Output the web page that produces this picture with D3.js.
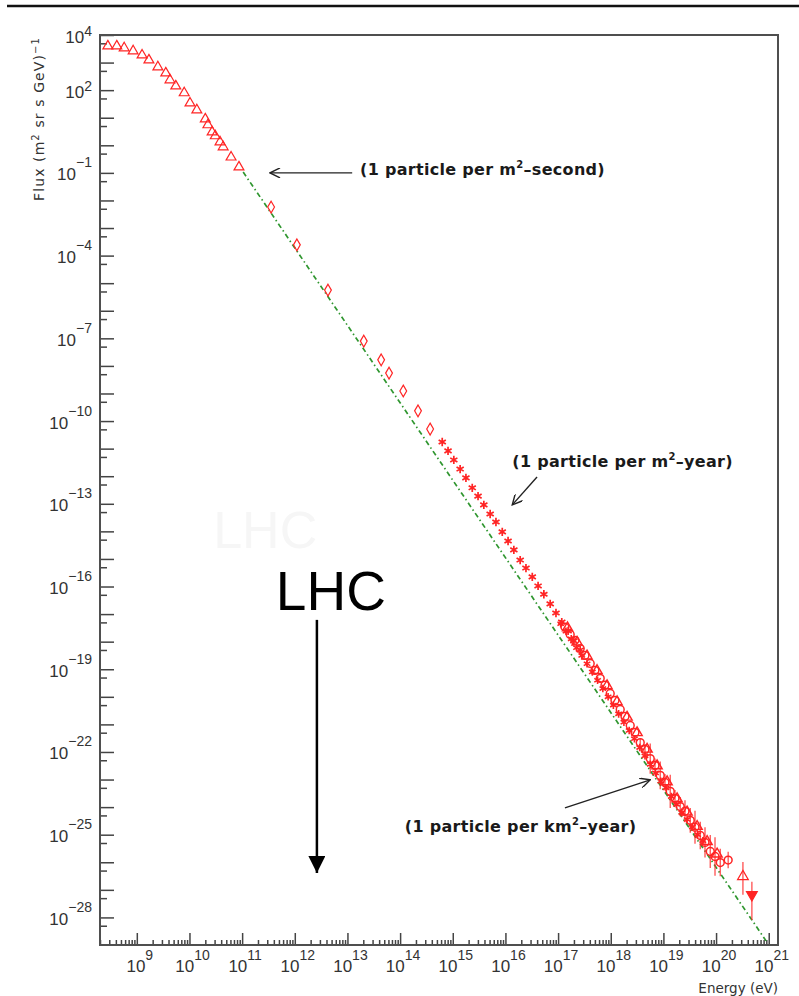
<!DOCTYPE html>
<html>
<head>
<meta charset="utf-8">
<script src="https://cdn.jsdelivr.net/npm/d3@7"></script>
<style>
  html, body { margin: 0; padding: 0; background: #fff; }
  svg { display: block; }
  .tick-label { font-family: "Liberation Sans", Arial, sans-serif; fill: #333; }
  .axis-title { font-family: "DejaVu Sans", sans-serif; fill: #333; }
  .note { font-family: "DejaVu Sans", sans-serif; font-weight: bold; fill: #1a1a1a; letter-spacing: 0.3px; }
  .lhc { font-family: "Liberation Sans", Arial, sans-serif; }
</style>
</head>
<body>
<svg id="chart" width="799" height="996"></svg>
<script>
// --- DATA (log10 values: energy in eV, flux in (m^2 sr s GeV)^-1) ---

// low energy points, open triangles
const lowLogE = [8.45, 8.62, 8.76, 8.93, 9.10, 9.23, 9.40, 9.55, 9.63, 9.74, 9.90, 10.01, 10.14, 10.30, 10.35, 10.43, 10.49, 10.58, 10.64, 10.79, 10.94];
const lowLogF = [3.60, 3.60, 3.53, 3.42, 3.27, 3.09, 2.84, 2.62, 2.37, 2.15, 1.90, 1.53, 1.28, 0.95, 0.74, 0.48, 0.34, 0.12, -0.06, -0.43, -0.79];

// direct measurements, open diamonds
const midLogE = [11.55, 12.04, 12.63, 13.31, 13.64, 13.79, 14.06, 14.34, 14.57];
const midLogF = [-2.24, -3.61, -5.25, -7.10, -7.78, -8.26, -8.91, -9.63, -10.29];

// knee region, asterisks
const kneeLogE = [14.80, 14.91, 15.02, 15.14, 15.25, 15.37, 15.48, 15.59, 15.71, 15.82, 15.94, 16.05, 16.16, 16.28, 16.39, 16.51, 16.62, 16.73, 16.85, 16.96, 17.07, 17.19, 17.30, 17.42];
const kneeLogF = [-10.76, -11.08, -11.41, -11.74, -12.06, -12.42, -12.72, -13.04, -13.37, -13.66, -14.02, -14.35, -14.67, -15.04, -15.33, -15.65, -15.98, -16.28, -16.63, -16.96, -17.29, -17.61, -17.97, -18.30];

// air shower arrays, open circles with error bars
const highLogE = [17.13, 17.23, 17.32, 17.42, 17.51, 17.61, 17.70, 17.80, 17.89, 17.99, 18.08, 18.18, 18.27, 18.37, 18.46, 18.56, 18.65, 18.75, 18.84, 18.94, 19.03, 19.13, 19.22, 19.32, 19.41, 19.51, 19.60, 19.70, 19.79, 19.89, 19.98, 20.08, 20.23];
const highLogF = [-17.47, -17.74, -17.95, -18.25, -18.50, -18.79, -19.04, -19.33, -19.58, -19.88, -20.13, -20.46, -20.71, -21.04, -21.29, -21.66, -21.91, -22.24, -22.49, -22.85, -23.10, -23.43, -23.68, -23.98, -24.15, -24.48, -24.73, -25.03, -25.28, -25.61, -25.79, -26.01, -25.92];
const highErr  = [0, 0, 0, 0, 0, 0, 0, 0, 0, 0, 0, 0, 0, 0, 0, 0.15, 0.2, 0.55, 0.25, 0.5, 0.3, 0.6, 0.3, 0.35, 0.4, 0.45, 0.6, 0.5, 0.55, 0.6, 0.7, 0.5, 0.3];

// second experiment, open triangles
const high2LogE = [17.18, 17.36, 17.55, 17.74, 17.93, 18.12, 18.31, 18.50, 18.69, 18.88, 19.07, 19.26, 19.45, 19.64, 19.83, 20.02];
const high2LogF = [-17.50, -18.02, -18.52, -19.05, -19.60, -20.18, -20.74, -21.30, -21.90, -22.50, -23.08, -23.70, -24.18, -24.70, -25.25, -25.70];

// third experiment, stars
const high3LogE = [17.05, 17.15, 17.25, 17.35, 17.45, 17.55, 17.65, 17.75, 17.85, 17.95, 18.05, 18.15, 18.25, 18.35, 18.45, 18.55, 18.65, 18.75, 18.85, 18.95, 19.05, 19.15, 19.25, 19.35, 19.45, 19.55, 19.65, 19.75];
const high3LogF = [-17.35, -17.62, -17.90, -18.22, -18.50, -18.80, -19.10, -19.40, -19.70, -20.00, -20.30, -20.62, -20.92, -21.22, -21.52, -21.84, -22.14, -22.45, -22.76, -23.06, -23.30, -23.62, -23.90, -24.20, -24.45, -24.72, -25.00, -25.22];

// highest energy points
const topLogE = [20.51];
const topLogF = [-26.52];
const topLo = [-27.18];
const topHi = [-25.99];
const lastLogE = [20.68];
const lastLogF = [-27.18];
const lastLo = [-28.09];
const lastHi = [-26.71];

// power-law guide line (green dash-dot)
const fitLogE = [11.02, 20.95];
const fitLogF = [-0.97, -28.85];

// tick labels
const xTickExp = [9, 10, 11, 12, 13, 14, 15, 16, 17, 18, 19, 20, 21];
const yTickExp = [4, 2, -1, -4, -7, -10, -13, -16, -19, -22, -25, -28];

// annotations
const noteText = [
    ["(1 particle per m", "2", "\u2013second)"],
    ["(1 particle per m", "2", "\u2013year)"],
    ["(1 particle per km", "2", "\u2013year)"]
];
const noteLogE = [13.24, 16.13, 14.09];
const noteLogF = [-1.08, -11.66, -24.90];
const noteSpacing = [0.9, 0.3, 0.3];
const arrowFrom = [[13.09, -1.00], [16.60, -12.03], [17.13, -24.03]];
const arrowTo   = [[11.53, -1.00], [16.13, -13.04], [18.75, -23.01]];

const lhcLabel = "LHC";
const lhcTextLogE = 11.64, lhcTextLogF = -16.85;
const lhcGhostLogE = 10.45, lhcGhostLogF = -14.62;
const lhcArrowLogE = 12.42;
const lhcArrowLogF = [-17.21, -26.39];

// --- LAYOUT ---
const frame = { left: 100, top: 35, right: 778, bottom: 945 };
const red = "#ff2424";

const svg = d3.select("#chart");

const x = d3.scaleLog().domain([2e8, 1.5e21]).range([frame.left, frame.right]);
const y = d3.scaleLog().domain([1e-29, 1e4]).range([frame.bottom, frame.top]);
const px = v => x(Math.pow(10, v));
const py = v => y(Math.pow(10, v));

// rule at the top of the slide
svg.append("line")
    .attr("x1", 7).attr("x2", 799).attr("y1", 6).attr("y2", 6)
    .attr("stroke", "#111").attr("stroke-width", 2.5);

const defs = svg.append("defs");
defs.append("clipPath").attr("id", "plot-clip")
  .append("rect")
    .attr("x", frame.left).attr("y", frame.top)
    .attr("width", frame.right - frame.left).attr("height", frame.bottom - frame.top);

defs.append("marker")
    .attr("id", "open-head")
    .attr("viewBox", "0 0 10 10").attr("refX", 10).attr("refY", 5)
    .attr("markerUnits", "userSpaceOnUse").attr("markerWidth", 12).attr("markerHeight", 10)
    .attr("orient", "auto")
  .append("path")
    .attr("d", "M0,0 L10,5 L0,10")
    .attr("fill", "none").attr("stroke", "#222").attr("stroke-width", 1.4);

defs.append("marker")
    .attr("id", "solid-head")
    .attr("viewBox", "0 0 10 10").attr("refX", 10).attr("refY", 5)
    .attr("markerUnits", "userSpaceOnUse").attr("markerWidth", 20).attr("markerHeight", 17)
    .attr("orient", "auto")
  .append("path")
    .attr("d", "M0,0 L10,5 L0,10 Z")
    .attr("fill", "#000");

// --- AXES ---
const xMajor = d3.range(9, 22).map(n => Math.pow(10, n));
const xMinor = [];
d3.range(8, 21).forEach(n => d3.range(2, 10).forEach(k => {
    const v = k * Math.pow(10, n);
    if (v >= 2e8 && v <= 1.5e21) xMinor.push(v);
}));
const yMajor = d3.range(-28, 5).map(n => Math.pow(10, n));
const yMinor = d3.range(-29, 4).map(n => 5 * Math.pow(10, n)).filter(v => v >= 1e-29);

function styleTicks(g) {
    g.select(".domain").remove();
    g.selectAll(".tick line").attr("stroke", "#444").attr("stroke-width", 1.5);
}

svg.append("g").attr("transform", `translate(0,${frame.bottom})`)
    .call(d3.axisBottom(x).tickValues(xMajor).tickSize(-12).tickFormat(""))
    .call(styleTicks);
svg.append("g").attr("transform", `translate(0,${frame.bottom})`)
    .call(d3.axisBottom(x).tickValues(xMinor).tickSize(-5).tickFormat(""))
    .call(styleTicks);
svg.append("g").attr("transform", `translate(${frame.left},0)`)
    .call(d3.axisLeft(y).tickValues(yMajor).tickSize(-14).tickFormat(""))
    .call(styleTicks);
svg.append("g").attr("transform", `translate(${frame.left},0)`)
    .call(d3.axisLeft(y).tickValues(yMinor).tickSize(-7).tickFormat(""))
    .call(styleTicks);

// x tick labels 10^n
const xLab = svg.append("g").selectAll("text").data(xTickExp).join("text")
    .attr("class", "tick-label")
    .attr("x", d => px(d) + 3)
    .attr("y", 972)
    .attr("text-anchor", "middle");
xLab.append("tspan").attr("font-size", 17).text("10");
xLab.append("tspan").attr("font-size", 14).attr("dy", -12).text(d => d);

// y tick labels 10^n
const yLab = svg.append("g").selectAll("text").data(yTickExp).join("text")
    .attr("class", "tick-label")
    .attr("x", 92)
    .attr("y", d => py(d) + 7.5)
    .attr("text-anchor", "end");
yLab.append("tspan").attr("font-size", 17).text("10");
yLab.append("tspan").attr("font-size", 14).attr("dy", d => d > 0 ? -7 : -13)
    .text(d => d < 0 ? "\u2212" + Math.abs(d) : d);

// axis titles
const yTitle = svg.append("text").attr("class", "axis-title")
    .attr("transform", "translate(44,37) rotate(-90)")
    .attr("text-anchor", "end")
    .attr("font-size", 14)
    .attr("letter-spacing", 1.1);
yTitle.append("tspan").text("Flux (m");
yTitle.append("tspan").attr("font-size", 10).attr("dy", -5).text("2");
yTitle.append("tspan").attr("dy", 5).text(" sr s GeV)");
yTitle.append("tspan").attr("font-size", 10).attr("dy", -5).text("\u22121");

svg.append("text").attr("class", "axis-title")
    .attr("x", frame.right).attr("y", 993)
    .attr("text-anchor", "end").attr("font-size", 13.5)
    .text("Energy (eV)");

// --- DATA LAYER ---
const plot = svg.append("g").attr("clip-path", "url(#plot-clip)");

// guide line
plot.append("path")
    .datum(d3.zip(fitLogE, fitLogF))
    .attr("d", d3.line().x(d => px(d[0])).y(d => py(d[1])))
    .attr("fill", "none")
    .attr("stroke", "#2f962f")
    .attr("stroke-width", 1.7)
    .attr("stroke-dasharray", "5,3,1.5,3");

function drawSymbols(logE, logF, type, size, filled, rotate, width) {
    const sym = d3.symbol().type(type).size(size);
    plot.append("g").selectAll("path").data(d3.zip(logE, logF)).join("path")
        .attr("transform", d => `translate(${px(d[0])},${py(d[1])})` + (rotate ? ` rotate(${rotate})` : ""))
        .attr("d", sym)
        .attr("fill", filled ? red : "none")
        .attr("stroke", red)
        .attr("stroke-width", width || 1.2);
}

function drawErrors(logE, lo, hi) {
    plot.append("g").selectAll("line").data(d3.range(logE.length)).join("line")
        .attr("x1", i => px(logE[i])).attr("x2", i => px(logE[i]))
        .attr("y1", i => py(lo[i])).attr("y2", i => py(hi[i]))
        .attr("stroke", red).attr("stroke-width", 1.4).attr("stroke-opacity", 0.75);
}

// error bars of the air shower data
const withErr = d3.range(highLogE.length).filter(i => highErr[i] > 0);
drawErrors(withErr.map(i => highLogE[i]), withErr.map(i => highLogF[i] - highErr[i]), withErr.map(i => highLogF[i] + highErr[i]));
drawErrors(topLogE, topLo, topHi);
drawErrors(lastLogE, lastLo, lastHi);

drawSymbols(lowLogE, lowLogF, d3.symbolTriangle, 42, false);
drawSymbols(midLogE, midLogF, d3.symbolDiamond, 40, false);
drawSymbols(kneeLogE, kneeLogF, d3.symbolAsterisk, 48, false, 0, 1.7);
drawSymbols(high3LogE, high3LogF, d3.symbolAsterisk, 40, false, 0, 1.6);
drawSymbols(highLogE, highLogF, d3.symbolCircle, 48, false, 0, 1.5);
drawSymbols(high2LogE, high2LogF, d3.symbolTriangle, 45, false, 0, 1.4);
drawSymbols(topLogE, topLogF, d3.symbolTriangle, 50, false);
drawSymbols(lastLogE, lastLogF, d3.symbolTriangle, 50, true, 180);

// frame
svg.append("rect")
    .attr("x", frame.left).attr("y", frame.top)
    .attr("width", frame.right - frame.left).attr("height", frame.bottom - frame.top)
    .attr("fill", "none").attr("stroke", "#4f4f4f").attr("stroke-width", 2);

// --- ANNOTATIONS ---
const notes = svg.append("g").selectAll("text").data(d3.range(noteText.length)).join("text")
    .attr("class", "note")
    .attr("x", i => px(noteLogE[i]))
    .attr("y", i => py(noteLogF[i]))
    .attr("letter-spacing", i => noteSpacing[i])
    .attr("font-size", 16);
notes.append("tspan").text(i => noteText[i][0]);
notes.append("tspan").attr("font-size", 10).attr("dy", -7).text(i => noteText[i][1]);
notes.append("tspan").attr("dy", 7).text(i => noteText[i][2]);

svg.append("g").selectAll("line").data(d3.range(arrowFrom.length)).join("line")
    .attr("x1", i => px(arrowFrom[i][0])).attr("y1", i => py(arrowFrom[i][1]))
    .attr("x2", i => px(arrowTo[i][0])).attr("y2", i => py(arrowTo[i][1]))
    .attr("stroke", "#222").attr("stroke-width", 1.4)
    .attr("marker-end", "url(#open-head)");

// LHC marker (and its faint shadow)
svg.append("text").attr("class", "lhc")
    .attr("x", px(lhcGhostLogE)).attr("y", py(lhcGhostLogF))
    .attr("font-size", 52).attr("fill", "#f6f6f6")
    .text(lhcLabel);
svg.append("text").attr("class", "lhc")
    .attr("x", px(lhcTextLogE)).attr("y", py(lhcTextLogF))
    .attr("font-size", 55).attr("fill", "#000")
    .text(lhcLabel);
svg.append("line")
    .attr("x1", px(lhcArrowLogE)).attr("x2", px(lhcArrowLogE))
    .attr("y1", py(lhcArrowLogF[0])).attr("y2", py(lhcArrowLogF[1]))
    .attr("stroke", "#000").attr("stroke-width", 2.5)
    .attr("marker-end", "url(#solid-head)");
</script>
</body>
</html>
